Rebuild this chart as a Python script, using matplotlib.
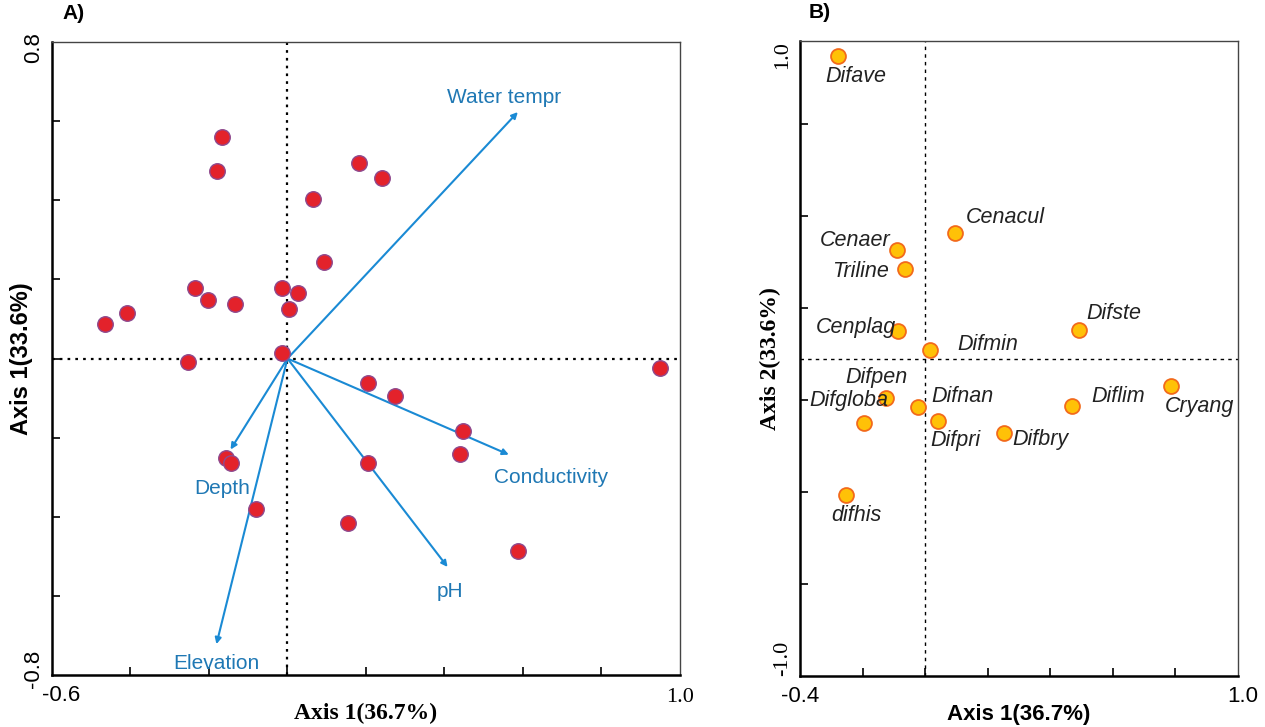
import matplotlib.pyplot as plt

# ---- Panel A: sites and environmental vectors ----
site_x = [-0.464, -0.408, -0.253, -0.235, -0.202, -0.133, -0.179, -0.166, -0.015,
          0.028, 0.005, -0.015, 0.064, 0.092, 0.181, 0.240, 0.204, 0.273, 0.446,
          0.439, 0.204, -0.156, -0.143, -0.079, 0.153, 0.587, 0.949]
site_y = [0.086, 0.116, -0.010, 0.177, 0.149, 0.137, 0.473, 0.559, 0.177,
          0.165, 0.124, 0.015, 0.403, 0.243, 0.494, 0.456, -0.061, -0.094, -0.182,
          -0.241, -0.263, -0.251, -0.263, -0.380, -0.415, -0.486, -0.023]

env_names = ["Water tempr", "Conductivity", "pH", "Depth", "Elevation"]
env_x = [0.587, 0.564, 0.408, -0.145, -0.181]
env_y = [0.623, -0.243, -0.527, -0.230, -0.722]

# ---- Panel B: species ----
sp_names = ["Difave", "Cenacul", "Cenaer", "Triline", "Cenplag", "Difmin", "Difste",
            "Cryang", "Diflim", "Difpen", "Difgloba", "Difnan", "Difpri", "Difbry", "difhis"]
sp_x = [-0.278, 0.096, -0.089, -0.064, -0.086, 0.016, 0.492,
        0.786, 0.470, -0.125, -0.195, -0.022, 0.042, 0.252, -0.252]
sp_y = [0.953, 0.396, 0.343, 0.283, 0.088, 0.028, 0.091,
        -0.088, -0.151, -0.123, -0.204, -0.154, -0.198, -0.233, -0.431]

blue = "#1a8ad4"
blue_txt = "#1f78b4"
sans = "Liberation Sans"
serif = "Liberation Serif"

fig = plt.figure(figsize=(12.65, 7.27), dpi=100)
axA = fig.add_axes([0.0411, 0.0715, 0.4964, 0.8707])
axB = fig.add_axes([0.6324, 0.0701, 0.3462, 0.8735])

for ax in (axA, axB):
    ax.tick_params(direction="in", length=6, width=1.2, labelleft=False, labelbottom=False)
    for s in ("left", "bottom"):
        ax.spines[s].set_linewidth(1.8)
    for s in ("top", "right"):
        ax.spines[s].set_linewidth(1.0)
        ax.spines[s].set_color("#444444")

axA.axhline(0, color="black", ls=(0, (1.2, 2.3)), lw=1.6, zorder=1)
axA.axvline(0, color="black", ls=(0, (1.2, 2.3)), lw=1.6, zorder=1)
axB.axhline(0, color="black", ls=(0, (2.5, 3)), lw=1.0, zorder=1)
axB.axvline(0, color="black", ls=(0, (2.5, 3)), lw=1.0, zorder=1)

# panel A
axA.set_xlim(-0.6, 1.0)
axA.set_ylim(-0.8, 0.8)
axA.set_xticks([-0.4, -0.2, 0, 0.2, 0.4, 0.6, 0.8])
axA.set_yticks([-0.6, -0.4, -0.2, 0, 0.2, 0.4, 0.6])

label_off = {"Water tempr": (-14, 15), "Conductivity": (42, -23), "pH": (2, -24),
             "Depth": (-8, -39), "Elevation": (0, -19)}
for name, ex, ey in zip(env_names, env_x, env_y):
    axA.annotate("", xy=(ex, ey), xytext=(0, 0),
                 arrowprops=dict(arrowstyle="-|>", color=blue, lw=1.5,
                                 mutation_scale=9, shrinkA=0, shrinkB=0), zorder=2)
    dx, dy = label_off[name]
    axA.annotate(name, xy=(ex, ey), xytext=(dx * 0.72, dy * 0.72), textcoords="offset points",
                 ha="center", va="center", color=blue_txt, fontsize=15, family=sans)

axA.scatter(site_x, site_y, s=125, color="#e3222b", edgecolor="#8e4a8f", linewidth=1.0, zorder=3)

axA.text(-0.03, 0.992, "0.8", transform=axA.transAxes, rotation=90, ha="center", va="center",
         fontsize=16, family=sans)
axA.text(-0.03, 0.01, "-0.8", transform=axA.transAxes, rotation=90, ha="center", va="center",
         fontsize=16, family=sans)
axA.text(0.015, -0.033, "-0.6", transform=axA.transAxes, ha="center", va="center",
         fontsize=16, family=sans)
axA.text(1.0, -0.035, "1.0", transform=axA.transAxes, ha="center", va="center",
         fontsize=16, family=serif)
axA.set_xlabel("Axis 1(36.7%)", fontsize=17, fontweight="bold", family=serif, labelpad=20)
axA.set_ylabel("Axis 1(33.6%)", fontsize=17, fontweight="bold", family=sans, labelpad=14)
axA.text(0.016, 1.045, "A)", transform=axA.transAxes, fontsize=15, fontweight="bold",
         family=sans, ha="left", va="center")

# panel B
axB.set_xlim(-0.4, 1.0)
axB.set_ylim(-1.0, 1.0)
axB.set_xticks([-0.2, 0, 0.2, 0.4, 0.6, 0.8])
axB.set_yticks([-0.71, -0.42, -0.13, 0.16, 0.45, 0.74])

sp_off = {"Difave": (18, -21), "Cenacul": (50, 15), "Cenaer": (-42, 9), "Triline": (-45, -3),
          "Cenplag": (-42, 3), "Difmin": (58, 5), "Difste": (35, 16), "Cryang": (29, -20),
          "Diflim": (46, 10), "Difpen": (-10, 20), "Difgloba": (-15, 23), "Difnan": (44, 11),
          "Difpri": (17, -19), "Difbry": (36, -7), "difhis": (10, -20)}
axB.scatter(sp_x, sp_y, s=115, color="#ffc107", edgecolor="#f26a1b", linewidth=1.3, zorder=3)
for name, sx, sy in zip(sp_names, sp_x, sp_y):
    dx, dy = sp_off[name]
    axB.annotate(name, xy=(sx, sy), xytext=(dx * 0.72, dy * 0.72), textcoords="offset points",
                 ha="center", va="center", fontsize=15.5, style="italic", color="#222222",
                 family=sans)

axB.text(-0.04, 1.0, "1.0", transform=axB.transAxes, rotation=90, ha="center", va="top",
         fontsize=16, family=serif)
axB.text(-0.04, 0.0, "-1.0", transform=axB.transAxes, rotation=90, ha="center", va="bottom",
         fontsize=16, family=serif)
axB.text(0.0, -0.033, "-0.4", transform=axB.transAxes, ha="center", va="center",
         fontsize=16, family=sans)
axB.text(1.01, -0.033, "1.0", transform=axB.transAxes, ha="center", va="center",
         fontsize=16, family=sans)
axB.set_xlabel("Axis 1(36.7%)", fontsize=16, fontweight="bold", family=sans, labelpad=20)
axB.set_ylabel("Axis 2(33.6%)", fontsize=17, fontweight="bold", family=serif, labelpad=14)
axB.text(0.02, 1.045, "B)", transform=axB.transAxes, fontsize=15, fontweight="bold",
         family=sans, ha="left", va="center")

fig.savefig("out.png", dpi=100)
